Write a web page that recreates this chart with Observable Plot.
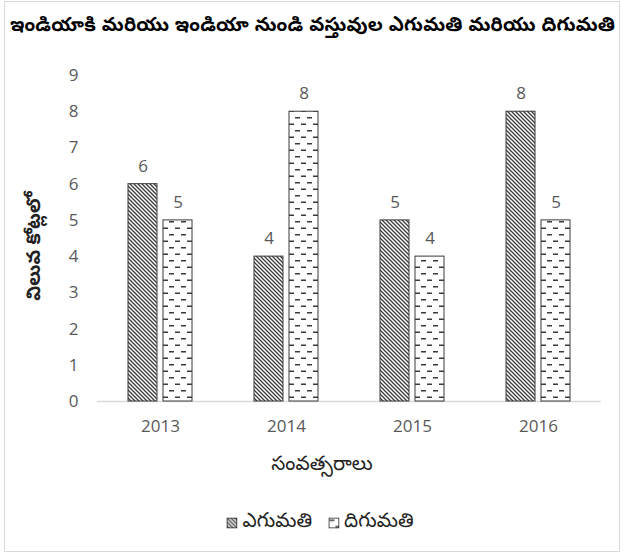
<!DOCTYPE html>
<html>
<head>
<meta charset="utf-8">
<script src="https://cdn.jsdelivr.net/npm/d3@7"></script>
<script src="https://cdn.jsdelivr.net/npm/@observablehq/plot@0.6"></script>
<style>
  body { margin: 0; background: #fff; }
  #wrap { position: relative; width: 623px; height: 555px; overflow: hidden; font-family: "Noto Sans Telugu", "Noto Sans", "Open Sans", sans-serif; }
  #frame { position: absolute; left: 4px; top: 1px; width: 616px; height: 551px; border: 1px solid #d9d9d9; box-sizing: border-box; }
  #title { position: absolute; left: 10px; top: 14px; font-size: 19.5px; font-weight: bold; color: #000; white-space: nowrap; letter-spacing: 0.2px; }
  #chart { position: absolute; left: 0; top: 50px; }
  #ylabel { position: absolute; left: 36px; top: 246px; transform: translate(-50%, -50%) rotate(-90deg); font-size: 19px; font-weight: bold; color: #222; white-space: nowrap; }
  #xlabel { position: absolute; left: 322px; top: 466px; transform: translate(-50%, -50%); font-size: 20px; color: #222; white-space: nowrap; }
  #legend { position: absolute; left: 320px; top: 523px; transform: translate(-50%, -50%); font-size: 20px; color: #222; white-space: nowrap; display: flex; align-items: center; gap: 6px; }
  #legend .item { display: flex; align-items: center; gap: 5px; margin: 0 5px; }
</style>
</head>
<body>
<svg width="0" height="0" style="position:absolute">
  <defs>
    <pattern id="expPat" patternUnits="userSpaceOnUse" width="4" height="4">
      <rect width="4" height="4" fill="#fff"/>
      <path d="M-1,-1 L5,5 M-1,3 L1,5 M3,-1 L5,1" stroke="#3a3a3a" stroke-width="1.3"/>
    </pattern>
    <pattern id="impPat" patternUnits="userSpaceOnUse" width="12" height="13">
      <rect width="12" height="13" fill="#fff"/>
      <rect x="1" y="2" width="5" height="1.5" fill="#3a3a3a"/>
      <rect x="7" y="8.5" width="5" height="1.5" fill="#3a3a3a"/>
    </pattern>
  </defs>
</svg>
<div id="wrap">
  <div id="frame"></div>
  <div id="title"></div>
  <div id="chart"></div>
  <div id="ylabel"></div>
  <div id="xlabel"></div>
  <div id="legend"></div>
</div>
<script>
const titleText = "ఇండియాకి మరియు ఇండియా నుండి వస్తువుల ఎగుమతి మరియు దిగుమతి";
const yLabelText = "విలువ కోట్లలో";
const xLabelText = "సంవత్సరాలు";
const years = ["2013", "2014", "2015", "2016"];
const seriesNames = ["ఎగుమతి", "దిగుమతి"];
const exportValues = [6, 4, 5, 8];
const importValues = [5, 8, 4, 5];
const yTicks = [0, 1, 2, 3, 4, 5, 6, 7, 8, 9];
const seriesFills = ["url(#expPat)", "url(#impPat)"];

const rows = [];
years.forEach((yr, i) => {
  rows.push({year: yr, series: seriesNames[0], value: exportValues[i]});
  rows.push({year: yr, series: seriesNames[1], value: importValues[i]});
});

document.getElementById("title").textContent = titleText;
document.getElementById("ylabel").textContent = yLabelText;
document.getElementById("xlabel").textContent = xLabelText;

const plot = Plot.plot({
  width: 623,
  height: 440,
  marginLeft: 97,
  marginRight: 22,
  marginTop: 25,
  marginBottom: 89,
  style: {fontFamily: "'Open Sans', sans-serif", fontSize: "17px", color: "#595959", background: "transparent"},
  fx: {domain: years, padding: 0, label: null, axis: null},
  x: {domain: seriesNames, paddingInner: 0.16, paddingOuter: 0.88, axis: null},
  y: {domain: [0, 9], ticks: yTicks, tickSize: 0, tickPadding: 19, label: null, tickFormat: d => d},
  color: {domain: seriesNames, range: seriesFills},
  marks: [
    Plot.ruleY([0], {stroke: "#d9d9d9", strokeWidth: 1.5}),
    Plot.barY(rows, {fx: "year", x: "series", y: "value", fill: "series", stroke: "#3a3a3a", strokeWidth: 1, inset: 0}),
    Plot.text(rows, {fx: "year", x: "series", y: "value", text: d => String(d.value), dy: -18, fill: "#595959", fontSize: 17}),
    Plot.axisFx({domain: years, anchor: "bottom", tickSize: 0, tickPadding: 18, label: null, fontSize: 17})
  ]
});
document.getElementById("chart").appendChild(plot);

const legend = document.getElementById("legend");
seriesNames.forEach((name, i) => {
  const item = document.createElement("div");
  item.className = "item";
  item.innerHTML = `<svg width="11" height="11"><rect x="0.5" y="0.5" width="10" height="10" fill="${seriesFills[i]}" stroke="#222" stroke-width="1"/></svg><span>${name}</span>`;
  legend.appendChild(item);
});
</script>
</body>
</html>
